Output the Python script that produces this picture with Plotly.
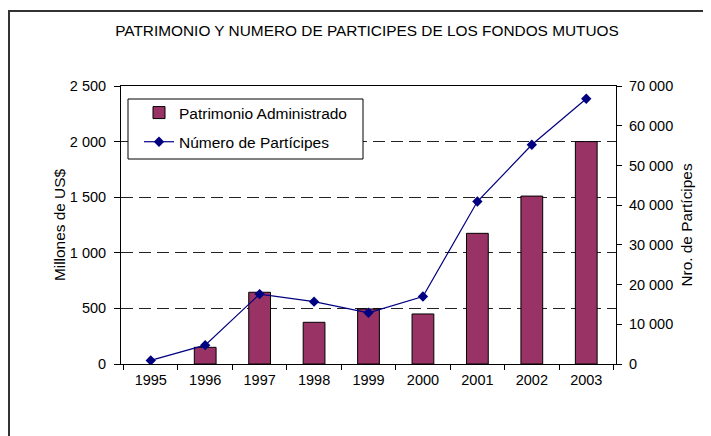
import plotly.graph_objects as go

years = ["1995", "1996", "1997", "1998", "1999", "2000", "2001", "2002", "2003"]
patrimonio = [None, 150, 645, 375, 495, 450, 1175, 1510, 2000]
participes = [900, 4750, 17600, 15700, 12900, 17000, 40900, 55200, 66800]

FONT = "Liberation Sans, Arial, sans-serif"

# page has an 8px body margin; figure coords = page coords - 8
W, H = 703, 428
L, R, T, B = 113, 95, 78, 72
PW, PH = W - L - R, H - T - B  # 495 x 278


def px(xpage):
    return (xpage - 8 - L) / PW


def py(ypage):
    return 1 - (ypage - 8 - T) / PH


fig = go.Figure()
fig.add_trace(go.Bar(
    x=years, y=patrimonio, name="Patrimonio Administrado",
    marker=dict(color="#993366", line=dict(color="black", width=1)),
    width=0.4, legendgroup="a", yaxis="y",
))
fig.add_trace(go.Scatter(
    x=years, y=participes, name="Número de Partícipes", mode="lines+markers",
    line=dict(color="#000080", width=1.2),
    marker=dict(symbol="diamond", size=8, color="#000080"),
    legendgroup="b", yaxis="y2",
))

fig.update_layout(
    width=W, height=H,
    margin=dict(l=L, r=R, t=T, b=B, autoexpand=False),
    paper_bgcolor="white", plot_bgcolor="white",
    separators=". ",
    font=dict(family=FONT, size=14.5, color="black"),
    title=dict(text="PATRIMONIO Y NUMERO DE PARTICIPES DE LOS FONDOS MUTUOS",
               x=(367 - 8) / W, xanchor="center", y=1 - (31 - 8) / H, yanchor="middle",
               font=dict(size=15.4, family=FONT)),
    showlegend=True,
    legend=dict(x=px(139), y=py(96), xanchor="left", yanchor="top",
                borderwidth=0, bgcolor="rgba(0,0,0,0)",
                font=dict(size=15.5, family=FONT), tracegroupgap=6),
    xaxis=dict(type="category", showline=True, linecolor="black", linewidth=1,
               mirror=True, ticks="outside", ticklen=5, tickcolor="black",
               tickson="boundaries", showgrid=False, ticklabelstandoff=3,
               tickfont=dict(size=14.5)),
    yaxis=dict(range=[0, 2500], dtick=500, showline=True, linecolor="black",
               linewidth=1, ticks="outside", ticklen=6, tickcolor="black",
               showgrid=True, gridcolor="#222222", gridwidth=1, griddash="12px,6px",
               zeroline=False, tickformat=",d", ticklabelstandoff=5,
               title=dict(text="Millones de US$", font=dict(size=15.4), standoff=0),
               tickfont=dict(size=14.5)),
    yaxis2=dict(range=[0, 70000], dtick=10000, overlaying="y", side="right",
                showline=True, linecolor="black", linewidth=1, ticks="outside",
                ticklen=5, tickcolor="black", showgrid=False, zeroline=False,
                tickformat=",d", ticklabelstandoff=4,
                title=dict(text="Nro. de Partícipes", font=dict(size=15.4), standoff=8),
                tickfont=dict(size=14.5)),
    bargap=0.6,
)

# outer chart border
fig.add_shape(type="rect", xref="paper", yref="paper",
              x0=px(9), x1=px(725), y0=py(450), y1=py(11),
              line=dict(color="#333333", width=2), layer="below")

# legend box
fig.add_shape(type="rect", xref="paper", yref="paper",
              x0=px(128), x1=px(363), y0=py(159), y1=py(99),
              line=dict(color="black", width=1), fillcolor="white", layer="above")

fig.write_html("out.html")
